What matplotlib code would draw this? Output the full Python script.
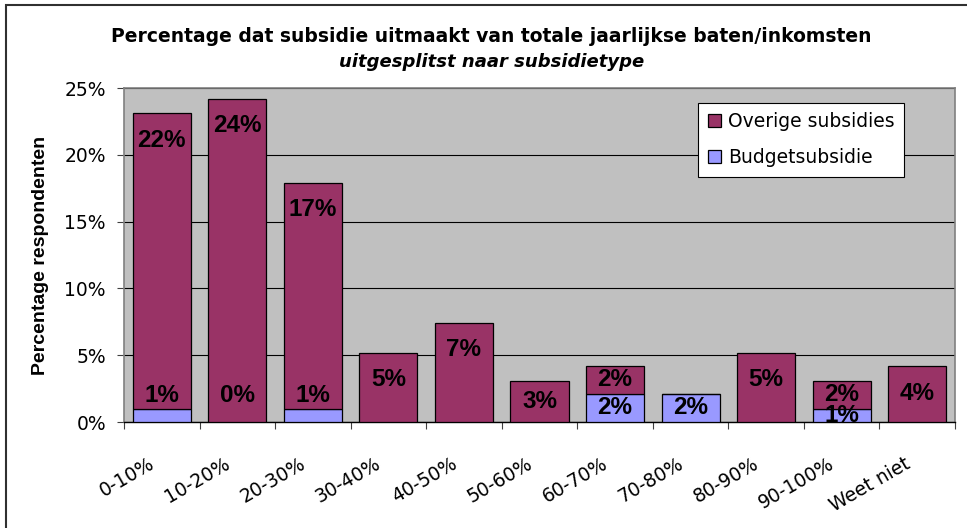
import numpy as np
import matplotlib
matplotlib.use("Agg")
import matplotlib.pyplot as plt
from matplotlib.patches import Rectangle
from matplotlib.transforms import ScaledTranslation

categories = ['0-10%', '10-20%', '20-30%', '30-40%', '40-50%', '50-60%',
              '60-70%', '70-80%', '80-90%', '90-100%', 'Weet niet']
# nan = no label / no segment
budget = [1.0, 0.0, 1.0, np.nan, np.nan, np.nan, 2.1, 2.1, np.nan, 1.0, np.nan]
overige = [22.1, 24.2, 16.9, 5.2, 7.4, 3.1, 2.1, np.nan, 5.2, 2.1, 4.2]
yticks = [0, 5, 10, 15, 20, 25]

title = "Percentage dat subsidie uitmaakt van totale jaarlijkse baten/inkomsten"
subtitle = "uitgesplitst naar subsidietype"

maroon = '#993366'
lavender = '#9999FF'

fig = plt.figure(figsize=(9.67, 5.28), dpi=100)
ax = fig.add_axes([124/967, 1-422/528, 831/967, 334/528])
ax.set_facecolor('#C0C0C0')

x = np.arange(len(categories))
b = np.nan_to_num(np.array(budget))
o = np.nan_to_num(np.array(overige))

ax.bar(x, b, width=0.77, color=lavender, edgecolor='black', linewidth=0.9,
       label='Budgetsubsidie', zorder=3)
ax.bar(x, o, bottom=b, width=0.77, color=maroon, edgecolor='black', linewidth=0.9,
       label='Overige subsidies', zorder=3)

lblfont = dict(family='Liberation Sans', weight='bold', size=17.5)
for i in range(len(categories)):
    if not np.isnan(overige[i]):
        top = b[i] + o[i]
        y = top - 2.0 if o[i] >= 4.5 else b[i] + o[i] / 2
        ax.text(x[i], y, f"{round(overige[i])}%", ha='center', va='center', zorder=5, **lblfont)
    if not np.isnan(budget[i]):
        y = 2.0 if o[i] >= 4.5 else b[i] / 2
        ax.text(x[i], y, f"{round(budget[i])}%", ha='center', va='center', zorder=5, **lblfont)

ax.set_xlim(-0.5, len(categories) - 0.5)
ax.set_ylim(0, 25)
ax.set_yticks(yticks)
ax.set_yticklabels([f"{t}%" for t in yticks], family='DejaVu Sans', fontsize=13.5)
ax.yaxis.grid(True, color='black', linewidth=0.8, zorder=1)
ax.tick_params(axis='y', length=5, width=0.8, pad=8, color='#404040')

ax.set_xticks(x)
ax.set_xticklabels(categories, rotation=30, ha='right', family='DejaVu Sans', fontsize=13.5)
ax.set_xticks(np.arange(len(categories) + 1) - 0.5, minor=True)
ax.tick_params(axis='x', which='major', length=0, pad=23)
ax.tick_params(axis='x', which='minor', length=5, width=0.8, color='#404040')
for lbl in ax.get_xticklabels():
    lbl.set_transform(lbl.get_transform() + ScaledTranslation(-0.04, 0, fig.dpi_scale_trans))

for side in ['left', 'top', 'right']:
    ax.spines[side].set_color('#808080')
    ax.spines[side].set_linewidth(1.2)
ax.spines['bottom'].set_color('black')
ax.spines['bottom'].set_linewidth(1.0)

ax.set_ylabel("Percentage respondenten", family='Liberation Sans', weight='bold', fontsize=14)
ax.yaxis.set_label_coords(-0.09, 0.5)

handles, labels = ax.get_legend_handles_labels()
leg = ax.legend(handles[::-1], labels[::-1], loc='upper left', bbox_to_anchor=(0.691, 0.955),
                prop=dict(family='DejaVu Sans', size=13.5), fancybox=False, framealpha=1,
                edgecolor='black', handlelength=0.7, handleheight=0.7, handletextpad=0.4,
                labelspacing=0.9, borderpad=0.5, borderaxespad=0)
leg.get_frame().set_linewidth(0.8)

fig.text(0.508, 1 - 41.7/528, title, ha='center', va='baseline',
         family='DejaVu Sans', weight='bold', fontsize=13.5)
fig.text(0.508, 1 - 67/528, subtitle, ha='center', va='baseline',
         family='DejaVu Sans', weight='bold', style='italic', fontsize=13)

fig.add_artist(Rectangle((6/967, -0.1), 1.2, 1.1 - 5/528, transform=fig.transFigure,
                         fill=False, edgecolor='#303030', linewidth=1.5))

fig.savefig("out.png", dpi=100)
